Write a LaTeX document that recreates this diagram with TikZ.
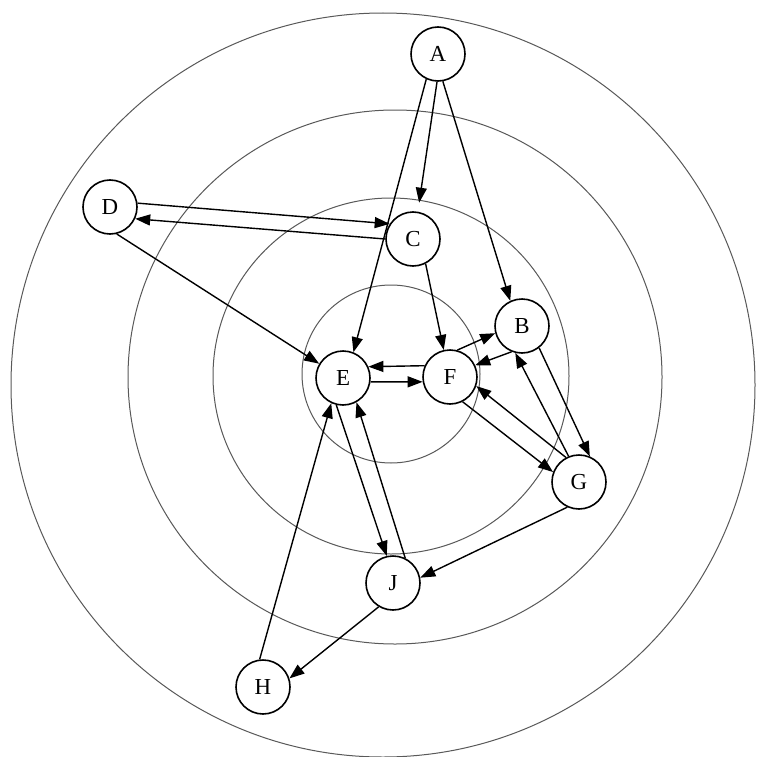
\documentclass[tikz,border=0pt]{standalone}
\usepackage{fontspec}
\setmainfont{Liberation Serif}
\usetikzlibrary{arrows.meta}
\begin{document}
\begin{tikzpicture}[x=1bp,y=-1bp,
  ring/.style={draw=black!65,line width=1bp},
  vtx/.style={circle,draw=black,fill=white,line width=1.6bp,minimum size=54bp,inner sep=0pt,font=\fontsize{23}{23}\selectfont},
  edge/.style={draw=black,line width=1.4bp,-{Triangle[length=15bp,width=11bp]}}]
\useasboundingbox[fill=white] (0,0) rectangle (758,757);
% concentric rings
\draw[ring] (383,385) circle[radius=372];
\draw[ring] (395,377) circle[radius=267];
\draw[ring] (391,376) circle[radius=178];
\draw[ring] (391,374) circle[radius=89];
% nodes
\node[vtx] (A) at (438,54) {A};
\node[vtx] (B) at (522,326) {B};
\node[vtx] (C) at (413,239) {C};
\node[vtx] (D) at (110,207) {D};
\node[vtx] (E) at (343,378) {E};
\node[vtx] (F) at (450,377) {F};
\node[vtx] (G) at (579,482) {G};
\node[vtx] (H) at (263,687) {H};
\node[vtx] (J) at (393,583) {J};
% connectors
\draw[edge] (A.245) -- (E.68);
\draw[edge,shorten >=9bp] (A.268) -- (C.80);
\draw[edge] (A.280) -- (B.115);
\draw[edge] (D.8) -- (C.147);
\draw[edge] (C.180) -- (D.335);
\draw[edge] (D.284) -- (E.149);
\draw[edge] (C.297) -- (F.103);
\draw[edge] (F.156) -- (E.24);
\draw[edge] (E.352) -- (F.190);
\draw[edge] (F.75) -- (B.195);
\draw[edge] (B.248) -- (F.25);
\draw[edge] (G.112) -- (B.256);
\draw[edge] (B.308) -- (G.67);
\draw[edge] (G.118) -- (F.341);
\draw[edge] (F.297) -- (G.159);
\draw[edge] (E.256) -- (J.103);
\draw[edge] (J.64) -- (E.299);
\draw[edge] (H.97) -- (E.245);
\draw[edge] (G.245) -- (J.11);
\draw[edge] (J.239) -- (H.18);
\end{tikzpicture}
\end{document}
